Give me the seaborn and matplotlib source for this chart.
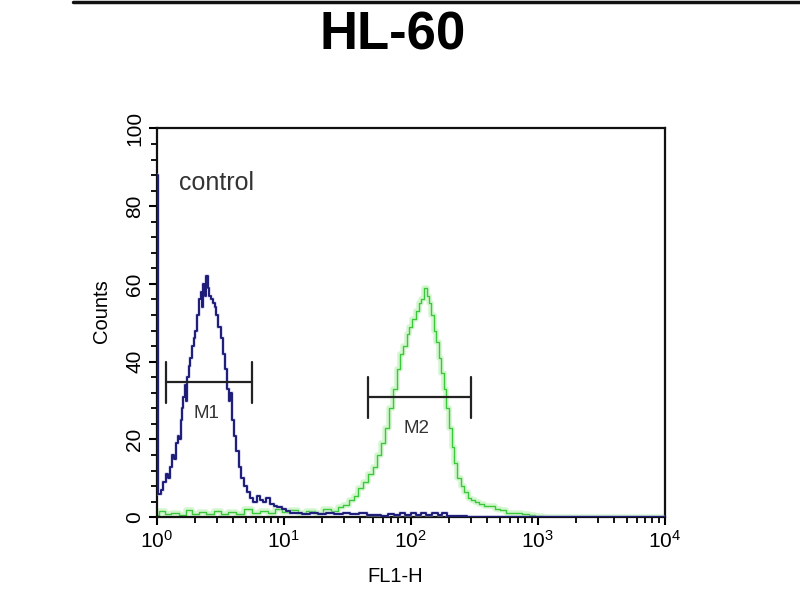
import matplotlib
matplotlib.use("Agg")
import matplotlib.pyplot as plt
import matplotlib.ticker as mticker
from matplotlib.lines import Line2D
import seaborn as sns
import numpy as np
import pandas as pd

# ========================================
# Data
# ========================================
title = "HL-60"
x_label = "FL1-H"
y_label = "Counts"
note = "control"

# control sample (blue)
blue_x = [1.00, 1.03, 1.06, 1.10, 1.15, 1.20, 1.26, 1.30, 1.35, 1.40, 1.44, 1.48, 1.52,
          1.56, 1.60, 1.64, 1.68, 1.72, 1.76, 1.80, 1.86, 1.92, 1.98, 2.05, 2.12, 2.18,
          2.24, 2.30, 2.36, 2.42, 2.48, 2.54, 2.62, 2.70, 2.80, 2.90, 3.00, 3.12, 3.25,
          3.38, 3.50, 3.62, 3.75, 3.85, 3.95, 4.10, 4.30, 4.50, 4.75, 5.00, 5.30, 5.60,
          5.90, 6.30, 6.70, 7.10, 7.50, 8.00, 8.60, 9.20, 10.0, 10.8, 11.5, 13, 15, 17,
          20, 23, 27, 31, 36, 42, 48, 55, 62, 70, 78, 85, 95, 105, 115, 125, 140, 155,
          170, 185, 200, 220, 250, 300, 1000, 10000]
blue_y = [88, 6, 6, 7, 9, 11, 10, 13, 16, 15, 19, 21, 20,
          25, 28, 31, 34, 30, 36, 39, 41, 44, 46, 48, 52, 56,
          58, 54, 60, 57, 62, 59, 57, 56, 55, 54, 52, 49, 46,
          42, 38, 33, 30, 32, 25, 21, 17, 13, 10, 8, 6.5, 5,
          4, 5.5, 4.5, 4, 5, 3.5, 3, 2.5, 2, 1.5, 1, 1.2, 0.8, 1,
          0.9, 1.1, 0.7, 1, 0.8, 1, 0.6, 0.5, 0.4, 0.8, 0.5, 1.2, 0.6, 1.1, 0.5, 1.2, 0.6, 1.1,
          0.5, 1.0, 0.4, 0.3, 0.2, 0, 0, 0]

# stained sample (green)
green_x = [1.0, 1.1, 1.2, 1.4, 1.6, 1.8, 2.0, 2.3, 2.6, 3.0, 3.4, 3.9, 4.5, 5.2, 6.0,
           7.0, 8.0, 9.0, 10.5, 12, 14, 16, 19, 22, 25, 28, 31, 34, 37, 40, 44, 48,
           52, 56, 60, 65, 70, 75, 80, 85, 90, 95, 100, 106, 112, 118, 124, 130, 136,
           142, 148, 155, 162, 170, 178, 186, 195, 205, 215, 225, 240, 255, 270, 290,
           310, 330, 360, 400, 440, 480, 530, 600, 700, 800, 900, 1000, 1200, 10000]
green_y = [0.5, 1.5, 0.8, 1.2, 0.6, 1.8, 0.9, 1.4, 0.7, 1.6, 0.8, 1.3, 0.9, 2.0, 1.0,
           1.5, 1.1, 2.2, 1.3, 1.8, 1.0, 1.6, 1.2, 2.0, 1.5, 2.5, 3.2, 4.5, 5.5, 7.5, 9, 11,
           13, 16, 19, 23, 28, 33, 38, 42, 44, 47, 49, 51, 53, 55, 56, 59, 57,
           55, 52, 48, 45, 41, 37, 33, 28, 23, 18, 14, 10, 8, 6.5, 5,
           4.5, 4, 3.5, 3, 2.8, 2.2, 1.8, 1.2, 1.0, 0.8, 0.5, 0.3, 0, 0]

# gates: label, low edge, high edge, level
gate_names = ["M1", "M2"]
gate_low = [1.18, 45.8]
gate_high = [5.6, 297]
gate_level = [34.7, 30.8]

blue_df = pd.DataFrame({"x": blue_x, "y": blue_y})
green_df = pd.DataFrame({"x": green_x, "y": green_y})

# ========================================
# Plot
# ========================================
sns.set_style("ticks")
plt.rcParams["font.family"] = ["Liberation Sans", "DejaVu Sans"]
plt.rcParams["mathtext.fontset"] = "custom"
plt.rcParams["mathtext.rm"] = "Liberation Sans"
plt.rcParams["mathtext.it"] = "Liberation Sans"
plt.rcParams["text.color"] = "black"
plt.rcParams["xtick.color"] = "black"
plt.rcParams["ytick.color"] = "black"
plt.rcParams["axes.labelcolor"] = "black"

fig = plt.figure(figsize=(8, 6), dpi=100)
ax = fig.add_axes([0.196, 0.138, 0.635, 0.648])

# green with light halo
sns.lineplot(data=green_df, x="x", y="y", ax=ax, color="#b8f0b0", linewidth=4,
             alpha=0.6, drawstyle="steps-mid", estimator=None, sort=False)
sns.lineplot(data=green_df, x="x", y="y", ax=ax, color="#3cc83c", linewidth=1.0,
             drawstyle="steps-mid", estimator=None, sort=False)
# blue with soft halo, drawn above the spines so the left spike shows
sns.lineplot(data=blue_df, x="x", y="y", ax=ax, color="#a8a8d8", linewidth=2.6,
             alpha=0.5, drawstyle="steps-mid", estimator=None, sort=False, zorder=3)
sns.lineplot(data=blue_df, x="x", y="y", ax=ax, color="#1c1c78", linewidth=1.4,
             drawstyle="steps-mid", estimator=None, sort=False, zorder=3)

# gate markers
for name, lo, hi, lev in zip(gate_names, gate_low, gate_high, gate_level):
    ax.plot([lo, hi], [lev, lev], color="#222222", linewidth=1.6, zorder=4)
    ax.plot([lo, lo], [lev - 5.3, lev + 5.3], color="#222222", linewidth=1.6, zorder=4)
    ax.plot([hi, hi], [lev - 5.3, lev + 5.3], color="#222222", linewidth=1.6, zorder=4)
    ax.text(np.sqrt(lo * hi) * 0.95, lev - 8, name, fontsize=13.5, ha="center",
            va="center", color="#333333")

ax.text(1.5, 86, note, fontsize=18, ha="left", va="center", color="#333333")

ax.set_xscale("log")
ax.set_xlim(1, 1e4)
ax.set_ylim(0, 100)
ax.xaxis.set_major_locator(mticker.LogLocator(base=10, numticks=10))
ax.xaxis.set_minor_locator(mticker.LogLocator(base=10, subs=np.arange(2, 10), numticks=20))
ax.xaxis.set_minor_formatter(mticker.NullFormatter())
ax.set_yticks(np.arange(0, 101, 20))
ax.yaxis.set_minor_locator(mticker.MultipleLocator(4))

ax.tick_params(axis="both", which="major", direction="out", length=6, width=1.5,
               labelsize=15)
ax.tick_params(axis="both", which="minor", direction="out", length=4, width=1.3)
ax.tick_params(axis="y", which="major", pad=3)
for lab in ax.get_yticklabels():
    lab.set_rotation(90)
    lab.set_va("center")

for side in ["left", "right", "top", "bottom"]:
    ax.spines[side].set_visible(True)
    ax.spines[side].set_linewidth(1.6)
    ax.spines[side].set_color("#111111")

ax.set_xlabel(x_label, fontsize=14.5)
ax.set_ylabel(y_label, fontsize=14.5)
ax.xaxis.set_label_coords(0.47, -0.128)
ax.yaxis.set_label_coords(-0.09, 0.53)

fig.text(0.491, 0.94, title, fontsize=38, fontweight="bold", ha="center", va="center")
fig.add_artist(Line2D([0.091, 1.0], [0.997, 0.997], transform=fig.transFigure,
                      color="#111111", linewidth=2.5))

plt.savefig("out.png", dpi=100)
